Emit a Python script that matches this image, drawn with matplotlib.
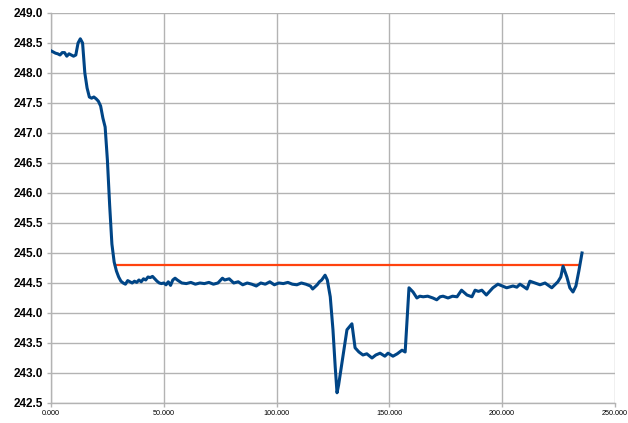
import matplotlib.pyplot as plt
from matplotlib.ticker import FormatStrFormatter

# voltage trace
xs = [0, 1, 2, 3, 4, 5, 6, 7, 8, 9, 10, 11, 12, 13, 14, 15, 16, 17, 18, 19,
      20, 21, 22, 23, 24, 25, 26, 27, 28, 29, 30, 31, 32, 33, 34, 35, 36, 37,
      38, 39, 40, 41, 42, 43, 44, 45, 46, 47, 48, 49, 50, 51, 52, 53, 54, 55,
      56, 58, 60, 62, 64, 66, 68, 70, 72, 74, 76, 77, 79, 81, 83, 85, 87, 89,
      91, 93, 95, 97, 99, 101, 103, 105, 107, 109, 111, 113, 115, 116, 118,
      119, 120, 121.5, 122.5, 123.8, 125, 126, 126.8, 127.5, 129, 131.2, 133.4,
      134.8, 136.5, 138.3, 140, 142.3, 144, 145.9, 148, 149.4, 151.6, 153.5,
      155.6, 157, 158.7, 160.5, 162.2, 163.5, 165, 167, 169.3, 171, 172.5,
      173.8, 176, 178, 180, 182, 184.4, 186.6, 188, 189.5, 191, 193, 195.9,
      198.1, 200, 202, 204.8, 206.5, 207.9, 209.5, 211, 212.3, 214.5, 216.8,
      219, 220.5, 222, 224.7, 226, 227, 228.7, 230, 231.4, 232.7, 234, 235.4]
volts = [248.37, 248.35, 248.33, 248.32, 248.30, 248.34, 248.34, 248.28, 248.32,
         248.30, 248.28, 248.30, 248.50, 248.57, 248.50, 248.00, 247.75, 247.60,
         247.58, 247.60, 247.57, 247.53, 247.45, 247.25, 247.10, 246.55, 245.80,
         245.15, 244.85, 244.70, 244.60, 244.53, 244.50, 244.48, 244.54, 244.52,
         244.50, 244.53, 244.51, 244.55, 244.52, 244.57, 244.55, 244.60, 244.59,
         244.61, 244.57, 244.53, 244.50, 244.49, 244.50, 244.47, 244.52, 244.46,
         244.55, 244.58, 244.55, 244.50, 244.49, 244.51, 244.48, 244.50, 244.49,
         244.51, 244.48, 244.50, 244.58, 244.55, 244.57, 244.50, 244.52, 244.47,
         244.50, 244.48, 244.45, 244.50, 244.48, 244.52, 244.47, 244.50, 244.49,
         244.51, 244.48, 244.47, 244.50, 244.48, 244.45, 244.40, 244.47, 244.52,
         244.55, 244.63, 244.55, 244.27, 243.72, 243.10, 242.67, 242.80, 243.17,
         243.72, 243.82, 243.42, 243.35, 243.30, 243.32, 243.25, 243.30, 243.33,
         243.28, 243.33, 243.28, 243.32, 243.38, 243.35, 244.42, 244.35, 244.25,
         244.28, 244.27, 244.28, 244.25, 244.22, 244.27, 244.28, 244.25, 244.28,
         244.27, 244.38, 244.30, 244.27, 244.38, 244.36, 244.38, 244.30, 244.42,
         244.48, 244.45, 244.42, 244.45, 244.43, 244.48, 244.44, 244.40, 244.53,
         244.50, 244.47, 244.50, 244.46, 244.42, 244.52, 244.60, 244.78, 244.60,
         244.42, 244.35, 244.45, 244.70, 245.00]

# reference level
ref_x = [28.4, 233.6]
ref_y = [244.8, 244.8]

fig = plt.figure(figsize=(6.28, 4.23), dpi=100)
ax = fig.add_axes([0.0812, 0.0473, 0.898, 0.922])

ax.plot(xs, volts, color="#004586", lw=2.2, solid_joinstyle="round", zorder=3)
ax.plot(ref_x, ref_y, color="#ff420e", lw=1.6, zorder=2)

ax.set_xlim(0, 250)
ax.set_ylim(242.5, 249.0)
ax.set_xticks([0, 50, 100, 150, 200, 250])
ax.set_yticks([242.5 + 0.5 * i for i in range(14)])
ax.xaxis.set_major_formatter(FormatStrFormatter("%.3f"))
ax.yaxis.set_major_formatter(FormatStrFormatter("%.1f"))

ax.grid(True, color="#b3b3b3", lw=1.0)
ax.set_axisbelow(True)
for side in ["top", "right"]:
    ax.spines[side].set_visible(False)
for side in ["left", "bottom"]:
    ax.spines[side].set_color("#b3b3b3")
    ax.spines[side].set_linewidth(1.0)

ax.tick_params(axis="y", length=3, width=1, color="#b3b3b3", pad=3)
ax.tick_params(axis="x", length=3, width=1, color="#b3b3b3", pad=2)
for lab in ax.get_yticklabels():
    lab.set_fontfamily("Liberation Sans")
    lab.set_fontweight("bold")
    lab.set_fontsize(8.5)
for lab in ax.get_xticklabels():
    lab.set_fontfamily("Liberation Sans")
    lab.set_fontsize(5.2)

fig.savefig("out.png", dpi=100)
